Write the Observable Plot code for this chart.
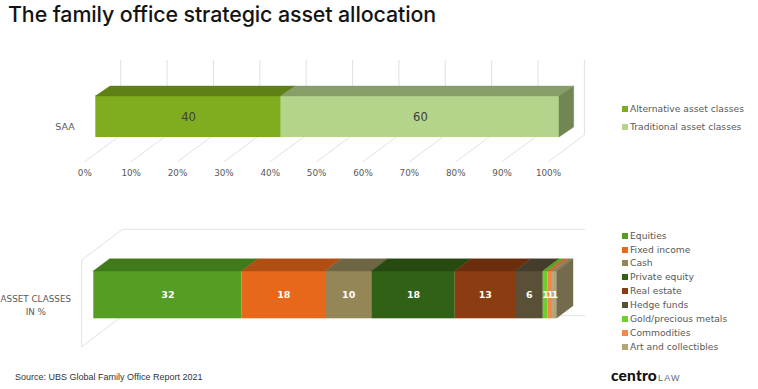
<!DOCTYPE html>
<html>
<head>
<meta charset="utf-8">
<script src="https://cdn.jsdelivr.net/npm/d3@7"></script>
<script src="https://cdn.jsdelivr.net/npm/@observablehq/plot@0.6"></script>
<style>
  html, body { margin: 0; padding: 0; background: #fff; }
  #root { position: relative; width: 758px; height: 389px; overflow: hidden; font-family: "DejaVu Sans", sans-serif; }
  .title { position: absolute; left: 8px; top: 1px; font-family: Inter, sans-serif; font-size: 21.4px; font-weight: 500; color: #141414; letter-spacing: -0.1px; white-space: nowrap; }
  .chart { position: absolute; left: 0; }
  .legend-item { position: absolute; left: 622px; height: 12px; line-height: 12px; font-size: 9.2px; color: #595959; white-space: nowrap; }
  .legend-item span.sw { display: inline-block; width: 6px; height: 6px; margin-right: 2px; vertical-align: 0px; }
  .source { position: absolute; left: 15px; top: 372px; font-family: "Liberation Sans", Arial, sans-serif; font-size: 9px; color: #333; white-space: nowrap; }
  .logo { position: absolute; left: 611px; top: 366px; white-space: nowrap; }
  .logo b { font-family: Lato, sans-serif; font-weight: 900; font-size: 15.5px; color: #111; letter-spacing: 0.2px; }
  .logo i { font-style: normal; font-family: "Liberation Sans", sans-serif; font-size: 9px; color: #666; letter-spacing: 1.2px; margin-left: 1px; }
  g[aria-label="category label"] { letter-spacing: 1.6px; }
</style>
</head>
<body>
<div id="root"></div>
<script>
// ---------------- data ----------------
const titleText = "The family office strategic asset allocation";

const saaCategory = "SAA";
const saaSeries = ["Alternative asset classes", "Traditional asset classes"];
const saaValues = [40, 60];
const saaFront = ["#80ac20", "#b3d48a"];
const saaTop = ["#5e8016", "#879e69"];
const saaSide = "#728653";
const percentTicks = [0, 10, 20, 30, 40, 50, 60, 70, 80, 90, 100];

const assetCategory = "ASSET CLASSES\nIN %";
const assetClasses = ["Equities", "Fixed income", "Cash", "Private equity", "Real estate",
  "Hedge funds", "Gold/precious metals", "Commodities", "Art and collectibles"];
const assetValues = [32, 18, 10, 18, 13, 6, 1, 1, 1];
const assetFront = ["#559e23", "#e8681b", "#958657", "#316116", "#8b3c10",
  "#5a5038", "#6fd02c", "#f08a4b", "#b3a578"];
const assetTop = ["#407a1b", "#b04e13", "#6e6545", "#264a11", "#6a2e0c",
  "#443d2b", "#56a51f", "#c36b36", "#8a7f5a"];
const assetSide = "#736b4b";

const sourceText = "Source: UBS Global Family Office Report 2021";

// ---------------- helpers ----------------
function stackRows(cat, names, values, front, top) {
  let acc = 0;
  return names.map((name, i) => {
    const x1 = acc; acc += values[i];
    return {cat, name, value: values[i], x1, x2: acc, front: front[i], top: top[i]};
  });
}

// top faces of each segment + right side face of the whole bar (pseudo 3D)
function boxFaces(rows, depth, sideColor) {
  const [dx, dy] = depth;
  return (index, scales) => {
    const {x, y} = scales;
    const g = d3.create("svg:g").attr("aria-label", "3d faces");
    for (const r of rows) {
      const y0 = y(r.cat), a = x(r.x1), b = x(r.x2);
      g.append("path")
        .attr("fill", r.top).attr("stroke", r.top).attr("stroke-width", 0.4)
        .attr("d", `M${a},${y0}L${a + dx},${y0 + dy}L${b + dx},${y0 + dy}L${b},${y0}Z`);
    }
    const last = rows[rows.length - 1];
    const xe = x(last.x2), y0 = y(last.cat), y1 = y0 + y.bandwidth();
    g.append("path")
      .attr("fill", sideColor).attr("stroke", sideColor).attr("stroke-width", 0.4)
      .attr("d", `M${xe},${y0}L${xe + dx},${y0 + dy}L${xe + dx},${y1 + dy}L${xe},${y1}Z`);
    return g.node();
  };
}

const root = d3.select("#root");
root.append("div").attr("class", "title").text(titleText);

// ---------------- SAA chart ----------------
const saaRows = stackRows(saaCategory, saaSeries, saaValues, saaFront, saaTop);

const saaGrid = (index, {x}, values, dims) => {
  const g = d3.create("svg:g").attr("aria-label", "3d grid")
    .attr("stroke", "#d9d9d9").attr("stroke-width", 0.8).attr("fill", "none");
  const bottom = dims.height - dims.marginBottom;
  for (const t of percentTicks) {
    const xb = x(t) + 25.4;   // back wall
    const xf = x(t) - 10.8;   // front edge of the floor
    g.append("line").attr("x1", xb).attr("x2", xb).attr("y1", dims.marginTop - 35.7).attr("y2", bottom - 2);
    g.append("line").attr("x1", xb).attr("y1", bottom - 2).attr("x2", xf).attr("y2", bottom + 25);
  }
  return g.node();
};

const saaChart = Plot.plot({
  width: 758, height: 140,
  marginLeft: 95.3, marginRight: 758 - 559, marginTop: 45.7, marginBottom: 140 - 87,
  style: {fontFamily: "'DejaVu Sans', sans-serif", background: "transparent", overflow: "visible"},
  x: {domain: [0, 100], axis: null},
  y: {domain: [saaCategory], axis: null, padding: 0},
  marks: [
    saaGrid,
    Plot.rect(saaRows, {x1: "x1", x2: "x2", y: "cat", fill: d => d.front, inset: 0}),
    boxFaces(saaRows, [14.7, -10], saaSide),
    Plot.text(saaRows, {x: d => (d.x1 + d.x2) / 2, y: "cat", text: d => String(d.value),
      fill: "#404040", fontSize: 11.5}),
    Plot.text([saaCategory], {x: 0, y: d => d, text: d => d, dx: -21, dy: 9.5,
      textAnchor: "end", fill: "#595959", fontSize: 9.5}),
    Plot.text(percentTicks, {x: d => d, frameAnchor: "bottom", dx: -11, dy: 38,
      text: d => d + "%", fill: "#595959", fontSize: 8.8})
  ]
});
saaChart.setAttribute("class", "chart");
saaChart.style.top = "50px";
root.node().appendChild(saaChart);

// ---------------- asset classes chart ----------------
const assetRows = stackRows(assetCategory, assetClasses, assetValues, assetFront, assetTop);

const assetWalls = (index, {x}, values, dims) => {
  const g = d3.create("svg:g").attr("aria-label", "3d walls")
    .attr("stroke", "#d9d9d9").attr("stroke-width", 0.8).attr("fill", "none");
  const bottom = dims.height - dims.marginBottom;
  const xl = x(0) - 11.6, xb = x(0) + 29.4, xr = x(100) + 28.3;
  const yTopFront = dims.marginTop - 10.5, yTopBack = dims.marginTop - 41.2;
  const yBotFront = bottom + 28.4, yBotBack = bottom - 2.6;
  g.append("path").attr("d",
    `M${xl},${yBotFront}L${xl},${yTopFront}L${xb},${yTopBack}L${xr},${yTopBack}` +
    `M${xl},${yBotFront}L${xb},${yBotBack}L${xr},${yBotBack}`);
  return g.node();
};

const assetChart = Plot.plot({
  width: 758, height: 145,
  marginLeft: 93.3, marginRight: 758 - 556.7, marginTop: 55.5, marginBottom: 145 - 103.3,
  style: {fontFamily: "'DejaVu Sans', sans-serif", background: "transparent", overflow: "visible"},
  x: {domain: [0, 100], axis: null},
  y: {domain: [assetCategory], axis: null, padding: 0},
  marks: [
    assetWalls,
    Plot.rect(assetRows, {x1: "x1", x2: "x2", y: "cat", fill: d => d.front, inset: 0}),
    boxFaces(assetRows, [16.3, -12.2], assetSide),
    Plot.text(assetRows, {x: d => (d.x1 + d.x2) / 2, y: "cat", text: d => String(d.value),
      fill: "white", fontSize: 9.5, fontWeight: "bold"}),
    Plot.text([assetCategory], {x: 0, y: () => assetCategory, text: d => d, dx: -58, dy: 9.5,
      textAnchor: "middle", lineHeight: 1.4, fill: "#595959", fontSize: 8.8, ariaLabel: "category label"})
  ]
});
assetChart.setAttribute("class", "chart");
assetChart.style.top = "215px";
root.node().appendChild(assetChart);

// ---------------- legends ----------------
function legend(names, colors, y0, step) {
  names.forEach((name, i) => {
    const item = root.append("div").attr("class", "legend-item")
      .style("top", (y0 + i * step - 6) + "px");
    item.append("span").attr("class", "sw").style("background", colors[i]);
    item.append("span").text(name);
  });
}
legend(saaSeries, saaFront, 109, 18);
legend(assetClasses, assetFront, 235.7, 13.87);

// ---------------- footer ----------------
root.append("div").attr("class", "source").text(sourceText);
const logo = root.append("div").attr("class", "logo");
logo.append("b").text("centro");
logo.append("i").text("LAW");
</script>
</body>
</html>
